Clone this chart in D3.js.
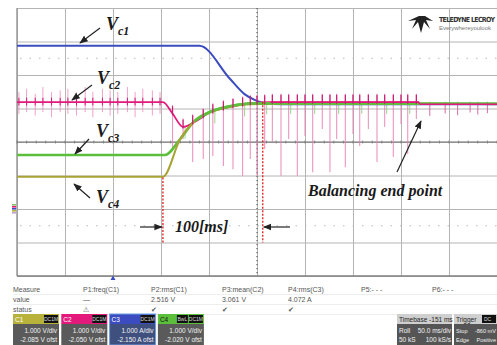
<!DOCTYPE html>
<html>
<head>
<meta charset="utf-8">
<script src="https://cdn.jsdelivr.net/npm/d3@7"></script>
<style>
  html, body { margin: 0; padding: 0; background: #fff; }
  svg { display: block; }
</style>
</head>
<body>
<div id="chart"></div>
<script>
// time axis in ms (50 ms/div, 10 div), vertical axis in divisions (0 = centre)
const vc1T = [0, 190, 222, 237, 248, 258, 275, 500];
const vc1V = [2.87, 2.87, 1.88, 1.43, 1.25, 1.16, 1.13, 1.13];

const vc2T = [0, 152, 162, 173, 185, 201, 222, 243, 264, 418, 420, 500];
const vc2V = [1.19, 1.19, 0.85, 0.45, 0.6, 0.88, 1.05, 1.15, 1.19, 1.19, 1.13, 1.13];

const vc3T = [0, 154, 170, 185, 201, 222, 243, 264, 500];
const vc3V = [-0.39, -0.39, 0.09, 0.63, 0.9, 1.07, 1.15, 1.15, 1.14];

const vc4T = [0, 152, 170, 185, 201, 222, 243, 264, 500];
const vc4V = [-1.04, -1.04, 0.09, 0.62, 0.88, 1.05, 1.13, 1.14, 1.13];

// pink jitter before the balancing starts
const noiseT = [2, 10, 19, 27, 36, 45, 53, 62, 71, 79, 89, 97, 105, 115, 123, 131, 141, 149];
const noiseUp = [0.3, 0.4, 0.25, 0.45, 0.3, 0.35, 0.4, 0.3, 0.45, 0.3, 0.4, 0.35, 0.3, 0.45, 0.3, 0.4, 0.35, 0.3];
const noiseDn = [0.35, 0.3, 0.4, 0.3, 0.45, 0.3, 0.35, 0.4, 0.3, 0.45, 0.3, 0.4, 0.35, 0.3, 0.45, 0.3, 0.4, 0.35];

// pink switching spikes during balancing (bottom of each spike, div)
const spikeT = [162, 173, 183, 194, 204, 215, 225, 235, 243, 250, 258, 266, 275, 283, 292, 300, 308, 318, 326, 333, 342, 350, 357, 366, 375, 383, 392, 400, 407, 416];
const spikeV = [-0.21, 0.09, -0.6, -0.51, -0.42, -0.72, -0.81, -1.01, -0.51, -1.01, -0.21, 0, -1.01, 0.09, -1.01, 0.18, -0.9, 0.39, -0.9, 0.09, -0.75, 0.24, -0.12, 0.39, -0.6, 0.45, -0.45, 0.54, -0.36, 0.69];

// small spikes after the end point
const tailT = [430, 446, 459, 472, 480, 490];
const tailV = [0.78, 0.85, 0.8, 0.88, 0.82, 0.86];

const marker1 = 152, marker2 = 256;

const measureHead = ['Measure', 'P1:freq(C1)', 'P2:rms(C1)', 'P3:mean(C2)', 'P4:rms(C3)', 'P5:- - -', 'P6:- - -'];
const measureVal = ['value', '\u2014', '2.516 V', '3.061 V', '4.072 A', '', ''];
const measureStat = ['status', '\u26a0', '\u2714', '\u2714', '\u2714', '', ''];
const measureX = [13, 83, 151, 222, 288, 361, 432];

const chanName = ['C1', 'C2', 'C3', 'C4'];
const chanScale = ['1.000 V/div', '1.000 V/div', '1.000 A/div', '1.000 V/div'];
const chanOfst = ['-2.085 V ofst', '-2.050 V ofst', '-2.150 A ofst', '-2.020 V ofst'];
const chanColor = ['#b9b23a', '#e3197b', '#3b4cc0', '#5bbf3c'];

const W = 497, H = 345;
const svg = d3.select('#chart').append('svg').attr('width', W).attr('height', H);

const x = d3.scaleLinear().domain([0, 500]).range([17, 497]);
const y = d3.scaleLinear().domain([4, -4]).range([8, 276]);

// grid
const gx = svg.append('g').attr('transform', `translate(0,${y(-4)})`)
  .call(d3.axisBottom(x).tickValues(d3.range(0, 501, 50)).tickSize(-(y(-4) - y(4))).tickFormat(''));
gx.select('.domain').remove();
gx.selectAll('line').attr('stroke', '#b4b4b4');
const gy = svg.append('g').attr('transform', `translate(${x(0)},0)`)
  .call(d3.axisLeft(y).tickValues(d3.range(-4, 5, 1)).tickSize(-(x(500) - x(0))).tickFormat(''));
gy.select('.domain').remove();
gy.selectAll('line').attr('stroke', '#b4b4b4');

svg.append('line').attr('x1', x(0)).attr('x2', x(0)).attr('y1', y(4)).attr('y2', y(-4))
  .attr('stroke', '#9a9a9a').attr('stroke-width', 1.5);
svg.append('line').attr('x1', x(0)).attr('x2', x(500)).attr('y1', y(-4)).attr('y2', y(-4))
  .attr('stroke', '#808080').attr('stroke-width', 1.5);
svg.append('line').attr('x1', x(0)).attr('x2', x(500)).attr('y1', y(0)).attr('y2', y(0))
  .attr('stroke', '#6e6e6e').attr('stroke-width', 1.2);
[2.5, -2.5].forEach(v => {
  svg.append('line').attr('x1', x(0) + 3).attr('x2', x(500)).attr('y1', y(v)).attr('y2', y(v))
    .attr('stroke', '#bbb').attr('stroke-dasharray', '1.5,8');
});
// centre vertical dotted line
svg.append('line').attr('x1', x(250)).attr('x2', x(250)).attr('y1', y(4)).attr('y2', y(-4))
  .attr('stroke', '#444').attr('stroke-dasharray', '1.2,2.8');
// minor ticks on centre line
svg.append('g').selectAll('line').data(d3.range(0, 501, 10)).join('line')
  .attr('x1', d => x(d)).attr('x2', d => x(d)).attr('y1', y(0) - 1.5).attr('y2', y(0) + 1.5)
  .attr('stroke', '#777').attr('stroke-width', 0.8);

// channel marker on the left edge
['#8ac060', '#e3197b', '#3b4cc0', '#b9b23a', '#c0a0d0'].forEach((c, i) => {
  svg.append('rect').attr('x', 12).attr('y', 204 + i * 2).attr('width', 4).attr('height', 1.6).attr('fill', c);
});

const line = d3.line().x(d => x(d[0])).y(d => y(d[1])).curve(d3.curveMonotoneX);
const zip = (a, b) => a.map((t, i) => [t, b[i]]);
const pinkBase = d3.scaleLinear().domain(vc2T).range(vc2V);

// pale pink jitter
svg.append('g').selectAll('line').data(noiseT).join('line')
  .attr('x1', d => x(d)).attr('x2', d => x(d))
  .attr('y1', (d, i) => y(1.19 + noiseUp[i])).attr('y2', (d, i) => y(1.19 - noiseDn[i]))
  .attr('stroke', '#ee8cbc').attr('stroke-width', 1).attr('opacity', 0.8);
svg.append('g').selectAll('line').data(noiseT).join('line')
  .attr('x1', d => x(d)).attr('x2', d => x(d))
  .attr('y1', y(1.19 + 0.13)).attr('y2', y(1.19 - 0.1))
  .attr('stroke', '#d21a76').attr('stroke-width', 1);

// pink switching spikes
svg.append('g').selectAll('line').data(spikeT).join('line')
  .attr('x1', d => x(d)).attr('x2', d => x(d))
  .attr('y1', d => y(pinkBase(d) + 0.25)).attr('y2', (d, i) => y(spikeV[i]))
  .attr('stroke', '#e77ab2').attr('stroke-width', 1.1).attr('opacity', 0.8);
// pale green spikes
svg.append('g').selectAll('line').data(spikeT.filter((d, i) => i % 3 === 1)).join('line')
  .attr('x1', d => x(d) + 2).attr('x2', d => x(d) + 2)
  .attr('y1', d => y(pinkBase(d))).attr('y2', d => y(pinkBase(d) - 0.35))
  .attr('stroke', '#9ad78a').attr('stroke-width', 1);
svg.append('g').selectAll('line').data(tailT).join('line')
  .attr('x1', d => x(d)).attr('x2', d => x(d))
  .attr('y1', y(1.2)).attr('y2', (d, i) => y(tailV[i]))
  .attr('stroke', '#d86aa8').attr('stroke-width', 1);

// traces
svg.append('path').datum(zip(vc1T, vc1V)).attr('d', line)
  .attr('fill', 'none').attr('stroke', '#3b4cc0').attr('stroke-width', 2);
svg.append('path').datum(zip(vc2T, vc2V)).attr('d', line)
  .attr('fill', 'none').attr('stroke', '#e3197b').attr('stroke-width', 1.8);
svg.append('path').datum(zip(vc3T, vc3V)).attr('d', line)
  .attr('fill', 'none').attr('stroke', '#5bbf3c').attr('stroke-width', 2.6);
svg.append('path').datum(zip(vc4T, vc4V)).attr('d', line)
  .attr('fill', 'none').attr('stroke', '#a9a235').attr('stroke-width', 2);
// green on top once the curves have met
svg.append('path').datum(zip(vc3T, vc3V).slice(3)).attr('d', line)
  .attr('fill', 'none').attr('stroke', '#5bbf3c').attr('stroke-width', 2.4);
// pink stays on top of the band after the curves meet
svg.append('path').datum(zip(vc2T, vc2V).slice(8)).attr('d', line)
  .attr('fill', 'none').attr('stroke', '#e3197b').attr('stroke-width', 1.5);
// small upward ticks on pink during balancing
svg.append('g').selectAll('line').data(spikeT).join('line')
  .attr('x1', d => x(d)).attr('x2', d => x(d))
  .attr('y1', d => y(pinkBase(d) + 0.22)).attr('y2', d => y(pinkBase(d) - 0.05))
  .attr('stroke', '#c81c70').attr('stroke-width', 1.2);

// red markers
[[marker1, -1.06, -3], [marker2, 1.2, -3]].forEach(([t, a, b]) => {
  svg.append('line').attr('x1', x(t)).attr('x2', x(t)).attr('y1', y(a)).attr('y2', y(b))
    .attr('stroke', '#e21b1b').attr('stroke-width', 1.3).attr('stroke-dasharray', '2,1.5');
});

// annotations
const defs = svg.append('defs');
defs.append('marker').attr('id', 'ah').attr('viewBox', '0 0 10 10').attr('refX', 9).attr('refY', 5)
  .attr('markerWidth', 7).attr('markerHeight', 7).attr('orient', 'auto-start-reverse')
  .append('path').attr('d', 'M0,1 L10,5 L0,9 Z').attr('fill', '#222');
const arrow = (x1, y1, x2, y2) => svg.append('line').attr('x1', x1).attr('y1', y1).attr('x2', x2).attr('y2', y2)
  .attr('stroke', '#222').attr('stroke-width', 1.2).attr('marker-end', 'url(#ah)');

const serif = '"Liberation Serif", "DejaVu Serif", serif';
const vLabel = (lx, ly, sub) => {
  const t = svg.append('text').attr('x', lx).attr('y', ly).attr('font-family', serif)
    .attr('font-style', 'italic').attr('font-weight', 'bold').attr('font-size', 18).attr('fill', '#1a1a1a');
  t.append('tspan').text('V');
  t.append('tspan').attr('dy', 5).attr('font-size', 12).text(sub);
};
vLabel(106, 30, 'c1'); arrow(100, 28, 80, 43);
vLabel(97, 84, 'c2'); arrow(92, 85, 72, 100);
vLabel(96, 137, 'c3'); arrow(89, 139, 75, 154);
vLabel(96, 203, 'c4'); arrow(90, 198, 74, 184);

svg.append('text').attr('x', 175).attr('y', 232).attr('font-family', serif).attr('font-style', 'italic')
  .attr('font-weight', 'bold').attr('font-size', 16).attr('fill', '#1a1a1a').text('100[ms]');
arrow(140, 227, x(marker1) - 1, 227);
arrow(290, 227, x(marker2) + 1, 227);

svg.append('text').attr('x', 308).attr('y', 196).attr('font-family', serif).attr('font-style', 'italic')
  .attr('font-weight', 'bold').attr('font-size', 16).attr('fill', '#1a1a1a').text('Balancing end point');
arrow(397, 172, 421, 121);

// logo
svg.append('path').attr('d', 'M408,21 L419,16 L422,16 L425,16 L433,21 L426,20 L430,29 L424,22 L421,33 L418,22 L412,29 L416,20 Z')
  .attr('fill', '#222');
svg.append('text').attr('x', 439).attr('y', 22).attr('font-family', '"DejaVu Sans Condensed", "Liberation Sans Narrow", sans-serif')
  .attr('font-weight', 'bold').attr('font-size', 7).attr('fill', '#333').attr('textLength', 56).text('TELEDYNE LECROY');
svg.append('text').attr('x', 439).attr('y', 30).attr('font-family', '"Liberation Sans", sans-serif')
  .attr('font-size', 6).attr('fill', '#777').attr('textLength', 52).text('Everywhereyoulook');

// trigger position marker
svg.append('path').attr('d', `M${x(100) - 2.5},${y(-4) + 4} L${x(100)},${y(-4) - 0.5} L${x(100) + 2.5},${y(-4) + 4} Z`)
  .attr('fill', '#3b4cc0');

// measurement rows
const sans = '"Liberation Sans", Arial, sans-serif';
[measureHead, measureVal, measureStat].forEach((row, r) => {
  svg.append('g').selectAll('text').data(row).join('text')
    .attr('x', (d, i) => measureX[i]).attr('y', 292 + r * 10)
    .attr('font-family', sans).attr('font-size', 7).attr('fill', '#555').text(d => d);
  svg.append('line').attr('x1', 13).attr('x2', 497).attr('y1', 294.5 + r * 10).attr('y2', 294.5 + r * 10)
    .attr('stroke', '#eee');
});

// channel boxes
chanName.forEach((c, i) => {
  const bx = 13 + i * 48.3, bw = 46;
  const g = svg.append('g');
  g.append('rect').attr('x', bx).attr('y', 324).attr('width', bw).attr('height', 21)
    .attr('fill', i === 2 ? '#3f4f7e' : '#5a5a5a');
  g.append('rect').attr('x', bx).attr('y', 314).attr('width', bw).attr('height', 10).attr('fill', chanColor[i]);
  if (i === 2) g.append('rect').attr('x', bx).attr('y', 314).attr('width', bw).attr('height', 31)
    .attr('fill', 'none').attr('stroke', '#6aa0e0').attr('stroke-width', 1);
  g.append('text').attr('x', bx + 2).attr('y', 321.5).attr('font-family', sans).attr('font-size', 6.5)
    .attr('fill', i === 3 ? '#111' : '#fff').text(c);
  g.append('rect').attr('x', bx + bw - 15).attr('y', 315).attr('width', 14).attr('height', 8).attr('fill', '#111');
  g.append('text').attr('x', bx + bw - 8).attr('y', 321.3).attr('text-anchor', 'middle')
    .attr('font-family', sans).attr('font-size', 5).attr('fill', '#ddd').text('DC1M');
  if (i === 3) {
    g.append('rect').attr('x', bx + bw - 27).attr('y', 315).attr('width', 11).attr('height', 8).attr('fill', '#111');
    g.append('text').attr('x', bx + bw - 21.5).attr('y', 321.3).attr('text-anchor', 'middle')
      .attr('font-family', sans).attr('font-size', 5).attr('fill', '#ddd').text('BwL');
  }
  g.append('text').attr('x', bx + bw - 2).attr('y', 333).attr('text-anchor', 'end').attr('font-family', sans)
    .attr('font-size', 6.5).attr('fill', '#f2f2f2').text(chanScale[i]);
  g.append('text').attr('x', bx + bw - 2).attr('y', 342).attr('text-anchor', 'end').attr('font-family', sans)
    .attr('font-size', 6.5).attr('fill', '#f2f2f2').text(chanOfst[i]);
});

// timebase and trigger boxes
const infoBox = (bx, bw, head, rows, badge, fs) => {
  const g = svg.append('g');
  g.append('rect').attr('x', bx).attr('y', 314).attr('width', bw).attr('height', 31).attr('fill', '#555');
  g.append('rect').attr('x', bx).attr('y', 314).attr('width', bw).attr('height', 10).attr('fill', '#cfcfcf');
  g.append('text').attr('x', bx + 2).attr('y', 321.5).attr('font-family', sans).attr('font-size', 6.5)
    .attr('fill', '#222').text(head);
  if (badge) {
    g.append('rect').attr('x', bx + 28).attr('y', 315).attr('width', bw - 29).attr('height', 8).attr('fill', '#111');
    g.append('text').attr('x', bx + 30).attr('y', 321.3).attr('font-family', sans).attr('font-size', 5)
      .attr('fill', '#ddd').text(badge);
  }
  rows.forEach((r, k) => {
    g.append('text').attr('x', bx + 2).attr('y', 333 + k * 9).attr('font-family', sans).attr('font-size', fs)
      .attr('fill', '#f2f2f2').text(r[0]);
    g.append('text').attr('x', bx + bw - 1).attr('y', 333 + k * 9).attr('text-anchor', 'end')
      .attr('font-family', sans).attr('font-size', fs).attr('fill', '#f2f2f2').text(r[1]);
  });
};
infoBox(397, 55, 'Timebase -151 ms', [['Roll', '50.0 ms/div'], ['50 kS', '100 kS/s']], null, 6.5);
infoBox(454, 43, 'Trigger', [['Stop', '-860 mV'], ['Edge', 'Positive']], 'DC', 5.6);
</script>
</body>
</html>
